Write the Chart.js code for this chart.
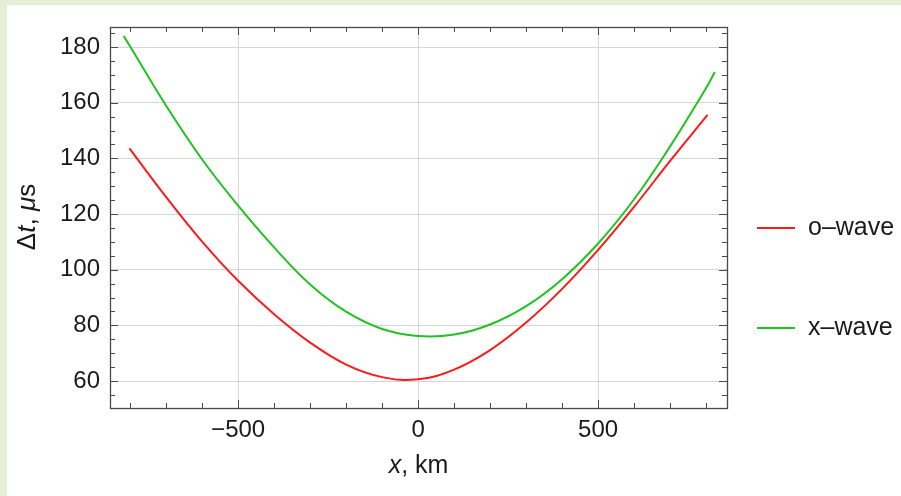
<!DOCTYPE html>
<html>
<head>
<meta charset="utf-8">
<script src="https://cdn.jsdelivr.net/npm/chart.js@4"></script>
<style>
  html, body { margin: 0; padding: 0; }
  body { width: 901px; height: 496px; background: #e8edd6; position: relative; overflow: hidden; }
  #panel { position: absolute; left: 7px; top: 5px; right: 0; bottom: 0; background: #fff; }
  #c { position: absolute; left: 0; top: 0; }
</style>
</head>
<body>
<div id="panel"></div>
<canvas id="c" width="901" height="496"></canvas>
<script>
// x positions (km) and delay (microseconds)
const xO = [-802, -700, -600, -500, -400, -300, -200, -100, 0, 100, 200, 300, 400, 500, 600, 700, 804];
const oWave = [143.6, 126.1, 110.1, 96.0, 84.0, 73.8, 65.9, 61.4, 60.6, 64.1, 71.1, 81.0, 93.1, 107.1, 122.6, 139.1, 155.6];

const xX = [-818, -800, -700, -600, -500, -400, -300, -200, -100, 0, 100, 200, 300, 400, 500, 600, 700, 800, 824];
const xWave = [184.0, 180.2, 158.9, 139.6, 123.0, 108.0, 94.7, 84.9, 78.7, 76.2, 76.7, 80.3, 86.9, 96.6, 109.4, 125.3, 144.3, 165.3, 171.0];

const xTicks = [-500, 0, 500];
const xTickLabels = ["\u2212500", "0", "500"];
const yTicks = [60, 80, 100, 120, 140, 160, 180];

const seriesNames = ["o\u2013wave", "x\u2013wave"];
const RED = "#ff1a1a";
const GREEN = "#1fc41f";
const FONT = "'Liberation Sans', Arial, sans-serif";

const pts = (xs, ys) => xs.map((x, i) => ({ x: x, y: ys[i] }));

// frame with inward ticks, axis titles and legend (Mathematica look)
const framePlugin = {
  id: "frame",
  afterDraw(chart) {
    const ctx = chart.ctx;
    const a = chart.chartArea;
    const xs = chart.scales.x, ys = chart.scales.y;
    ctx.save();
    ctx.strokeStyle = "#4a4a4a";
    ctx.lineWidth = 1;
    ctx.beginPath();
    for (let v = -800; v <= 800; v += 100) {
      const px = Math.round(xs.getPixelForValue(v)) + 0.5;
      const len = v % 500 === 0 ? 8 : 5;
      ctx.moveTo(px, a.bottom); ctx.lineTo(px, a.bottom - len);
      ctx.moveTo(px, a.top); ctx.lineTo(px, a.top + len);
    }
    for (let v = 55; v <= 185; v += 5) {
      const py = Math.round(ys.getPixelForValue(v)) + 0.5;
      const len = v % 20 === 0 ? 8 : 5;
      ctx.moveTo(a.left, py); ctx.lineTo(a.left + len, py);
      ctx.moveTo(a.right, py); ctx.lineTo(a.right - len, py);
    }
    ctx.stroke();
    ctx.lineWidth = 1.3;
    ctx.strokeRect(Math.round(a.left) + 0.5, Math.round(a.top) + 0.5, Math.round(a.right - a.left), Math.round(a.bottom - a.top));

    // axis titles with italic parts
    const drawParts = (parts, cx, cy, size) => {
      let w = 0;
      parts.forEach(p => { ctx.font = (p[1] ? "italic " : "") + size + "px " + FONT; w += ctx.measureText(p[0]).width; });
      let x = cx - w / 2;
      parts.forEach(p => {
        ctx.font = (p[1] ? "italic " : "") + size + "px " + FONT;
        ctx.fillText(p[0], x, cy);
        x += ctx.measureText(p[0]).width;
      });
    };
    ctx.fillStyle = "#1a1a1a";
    ctx.textBaseline = "middle";
    ctx.textAlign = "left";
    drawParts([["x", true], [", km", false]], (a.left + a.right) / 2, 466, 25);
    ctx.save();
    ctx.translate(28, 217);
    ctx.rotate(-Math.PI / 2);
    drawParts([["\u0394", false], ["t", true], [", ", false], ["\u03bc", true], ["s", false]], 0, 0, 26);
    ctx.restore();

    // legend
    const items = [[seriesNames[0], RED, 228], [seriesNames[1], GREEN, 328]];
    items.forEach(it => {
      ctx.strokeStyle = it[1];
      ctx.lineWidth = 2;
      ctx.beginPath();
      ctx.moveTo(757, it[2]); ctx.lineTo(795, it[2]);
      ctx.stroke();
      ctx.font = "25px " + FONT;
      ctx.fillStyle = "#1a1a1a";
      ctx.fillText(it[0], 808, it[2]);
    });
    ctx.restore();
  }
};

new Chart(document.getElementById("c").getContext("2d"), {
  type: "scatter",
  data: {
    datasets: [
      { label: seriesNames[0], data: pts(xO, oWave), showLine: true, borderColor: RED, borderWidth: 2, pointRadius: 0, tension: 0.4 },
      { label: seriesNames[1], data: pts(xX, xWave), showLine: true, borderColor: GREEN, borderWidth: 2, pointRadius: 0, tension: 0.4 }
    ]
  },
  options: {
    responsive: false,
    animation: false,
    devicePixelRatio: 1,
    layout: { padding: { left: 0, top: 27, right: 174, bottom: 0 } },
    plugins: { legend: { display: false }, tooltip: { enabled: false } },
    scales: {
      x: {
        type: "linear",
        min: -856,
        max: 858,
        afterBuildTicks: s => { s.ticks = xTicks.map(v => ({ value: v })); },
        afterFit: s => { s.height = 88; },
        grid: { color: "#d6d6d6", lineWidth: 1, drawTicks: false },
        border: { display: false },
        ticks: {
          padding: 8,
          color: "#1a1a1a",
          font: { size: 24, family: FONT },
          maxRotation: 0,
          callback: v => xTickLabels[xTicks.indexOf(v)]
        }
      },
      y: {
        type: "linear",
        min: 50.3,
        max: 187.2,
        afterBuildTicks: s => { s.ticks = yTicks.map(v => ({ value: v })); },
        afterFit: s => { s.width = 110; },
        grid: { color: "#d6d6d6", lineWidth: 1, drawTicks: false },
        border: { display: false },
        ticks: {
          padding: 10,
          color: "#1a1a1a",
          font: { size: 24, family: FONT }
        }
      }
    }
  },
  plugins: [framePlugin]
});
</script>
</body>
</html>
